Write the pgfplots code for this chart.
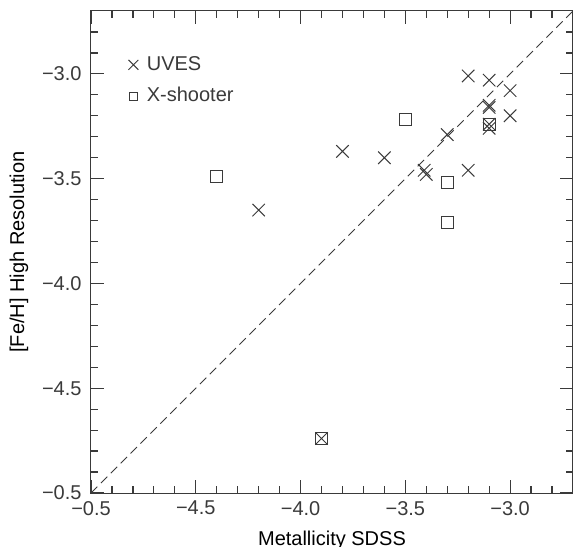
\documentclass[border=0pt]{standalone}
\usepackage{fontspec}
\setmainfont{Liberation Sans}
\usepackage{pgfplots}
\pgfplotsset{compat=1.18}

\definecolor{ink}{HTML}{3A3A3A}

\pgfplotsset{
  legx/.style={legend image code/.code={\draw[##1, mark size=3.5pt] plot coordinates {(0pt,0pt)}; \path (-2.5pt,0pt) (4.5pt,0pt);}},
  legsq/.style={legend image code/.code={\draw[##1, mark size=2pt] plot coordinates {(0pt,0pt)}; \path (-2.5pt,0pt) (4.5pt,0pt);}},
}

\begin{document}
\begin{tikzpicture}
\begin{axis}[
  scale only axis,
  width=241pt, height=241pt,
  xmin=-5.0, xmax=-2.7,
  ymin=-5.0, ymax=-2.7,
  xtick={-5.0,-4.5,-4.0,-3.5,-3.0},
  xticklabels={−0.5,−4.5,−4.0,−3.5,−3.0},
  ytick={-5.0,-4.5,-4.0,-3.5,-3.0},
  yticklabels={−0.5,−4.5,−4.0,−3.5,−3.0},
  minor xtick={-4.9,-4.8,-4.7,-4.6,-4.4,-4.3,-4.2,-4.1,-3.9,-3.8,-3.7,-3.6,-3.4,-3.3,-3.2,-3.1,-2.9,-2.8},
  minor ytick={-4.9,-4.8,-4.7,-4.6,-4.4,-4.3,-4.2,-4.1,-3.9,-3.8,-3.7,-3.6,-3.4,-3.3,-3.2,-3.1,-2.9,-2.8},
  tick align=inside,
  tickwidth=6.5pt,
  subtickwidth=3.5pt,
  xtick pos=both, ytick pos=both,
  axis line style={ink, line width=0.5pt},
  every tick/.style={ink, line width=0.6pt},
  tick label style={font=\fontsize{10}{11}\selectfont, text=ink},
  yticklabel style={xshift=-1.2pt},
  xticklabel style={yshift=-0.5pt},
  label style={font=\fontsize{10}{11}\selectfont, text=ink},
  xlabel={Metallicity SDSS},
  ylabel={[Fe/H] High Resolution},
  every axis x label/.style={at={(axis description cs:0.5,0)}, anchor=center, yshift=-23.5pt},
  every axis y label/.style={at={(axis description cs:0,0.5)}, anchor=center, rotate=90, yshift=36pt},
  legend style={at={(axis description cs:0.076,0.915)}, anchor=north west,
    draw=none, fill=none, font=\fontsize{10}{11}\selectfont, text=ink,
    row sep=3pt, inner sep=0pt},
  legend cell align=left,
]

% one-to-one line
\addplot[ink, line width=0.5pt, dash pattern=on 4.5pt off 2.5pt, forget plot] coordinates {(-5.0,-5.0) (-2.7,-2.7)};

% UVES
\addplot[only marks, mark=x, mark size=4.4pt, ink, mark options={line width=0.5pt}, legx] coordinates {
  (-3.2,-3.01) (-3.1,-3.03) (-3.0,-3.08) (-3.1,-3.15) (-3.1,-3.16)
  (-3.0,-3.20) (-3.1,-3.24) (-3.1,-3.26) (-3.3,-3.29) (-3.8,-3.37)
  (-3.6,-3.40) (-3.41,-3.46) (-3.4,-3.48) (-3.2,-3.46) (-4.2,-3.65)
  (-3.9,-4.74)
};
\addlegendentry{UVES}

% X-shooter
\addplot[only marks, mark=square, mark size=3pt, ink, mark options={line width=0.5pt}, legsq] coordinates {
  (-3.5,-3.22) (-4.4,-3.49) (-3.3,-3.52) (-3.3,-3.71) (-3.1,-3.24)
  (-3.9,-4.74)
};
\addlegendentry{X-shooter}

\end{axis}
\pgfresetboundingbox
\path[use as bounding box] ([xshift=-45.5pt,yshift=-27pt]current axis.south west)
  rectangle ([xshift=0.5pt,yshift=5.5pt]current axis.north east);
\end{tikzpicture}
\end{document}
